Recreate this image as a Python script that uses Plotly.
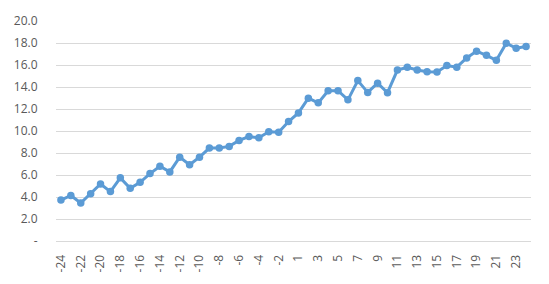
import plotly.graph_objects as go

categories = [str(i) for i in range(-24, 0)] + [str(i) for i in range(1, 25)]
values = [3.72, 4.14, 3.45, 4.29, 5.18, 4.49, 5.74, 4.79, 5.33, 6.13, 6.79, 6.28,
          7.62, 6.93, 7.62, 8.45, 8.45, 8.60, 9.14, 9.49, 9.38, 9.94, 9.88, 10.86,
          11.64, 12.98, 12.56, 13.66, 13.66, 12.83, 14.58, 13.51, 14.35, 13.48, 15.54, 15.80,
          15.54, 15.39, 15.36, 15.95, 15.80, 16.64, 17.26, 16.88, 16.43, 17.98, 17.53, 17.68]
y_tickvals = [0, 2, 4, 6, 8, 10, 12, 14, 16, 18, 20]
y_ticktext = ["-", "2.0", "4.0", "6.0", "8.0", "10.0", "12.0", "14.0", "16.0", "18.0", "20.0"]
x_tickvals = categories[::2]

fig = go.Figure()
fig.add_trace(go.Scatter(
    x=categories, y=values, mode="lines+markers",
    line=dict(color="#5B9BD5", width=3),
    marker=dict(color="#5B9BD5", size=7.5),
))

fig.update_layout(
    width=549, height=284,
    margin=dict(l=56, r=18, t=16, b=43),
    paper_bgcolor="white", plot_bgcolor="white",
    showlegend=False,
    font=dict(family="Open Sans", size=12, color="#595959"),
    xaxis=dict(
        type="category", categoryorder="array", categoryarray=categories,
        tickmode="array", tickvals=x_tickvals, ticktext=x_tickvals,
        tickangle=-90, showgrid=False, zeroline=False,
        showline=True, linecolor="#D9D9D9", linewidth=1,
        ticks="outside", ticklen=8, tickcolor="rgba(0,0,0,0)",
        range=[-0.5, len(categories) - 0.5],
    ),
    yaxis=dict(
        range=[0, 20], tickmode="array", tickvals=y_tickvals, ticktext=y_ticktext,
        showgrid=True, gridcolor="#D9D9D9", gridwidth=1, zeroline=False,
        showline=False, ticks="outside", ticklen=15, tickcolor="rgba(0,0,0,0)",
    ),
)

fig.write_html("out.html")
